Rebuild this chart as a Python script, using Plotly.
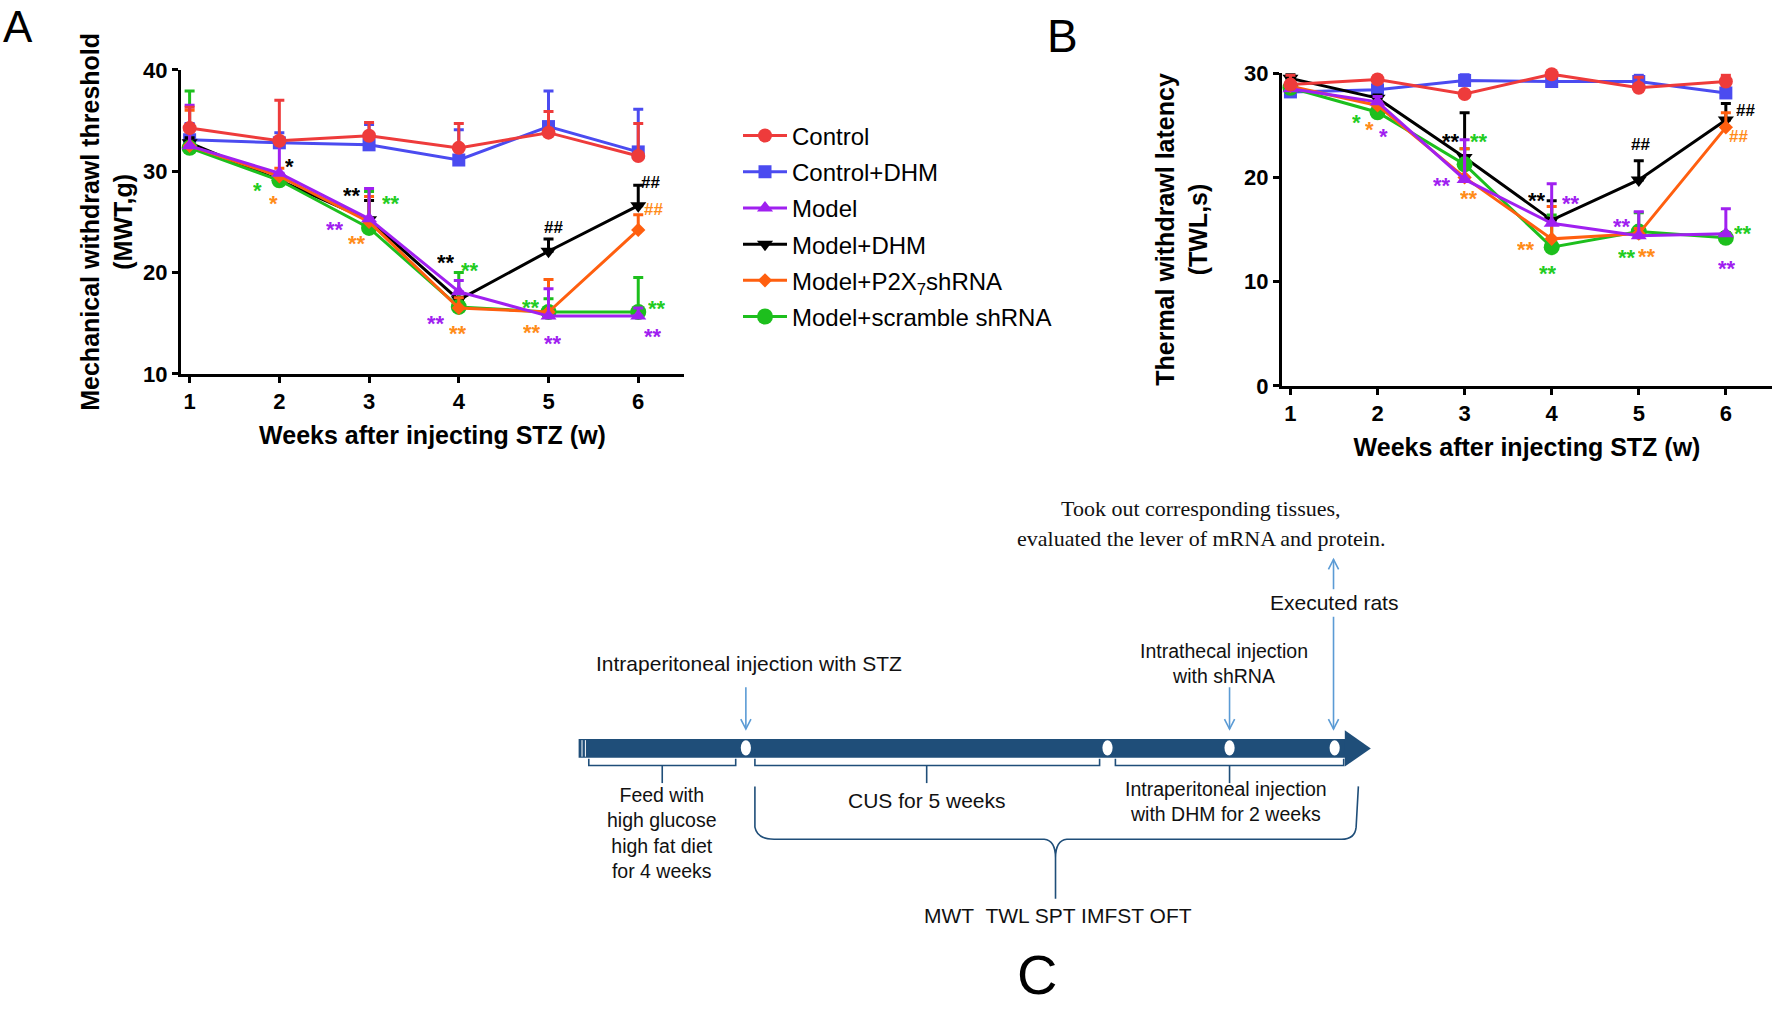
import plotly.graph_objects as go

# ---------------- data ----------------
weeks = [1, 2, 3, 4, 5, 6]
groups = ["Control", "Control+DHM", "Model", "Model+DHM",
          "Model+P2X<sub>7</sub>shRNA", "Model+scramble shRNA"]

# Panel A: mechanical withdrawl threshold (MWT, g), mean and upper error
mwt_control = [34.25, 33.0, 33.5, 32.3, 33.8, 31.5]
mwt_control_err = [2.05, 4.0, 1.3, 2.4, 2.1, 3.2]
mwt_control_dhm = [33.1, 32.8, 32.6, 31.1, 34.4, 31.9]
mwt_control_dhm_err = [1.6, 1.0, 2.0, 3.0, 3.5, 4.2]
mwt_model = [32.5, 29.8, 25.3, 18.1, 15.7, 15.7]
mwt_model_err = [4.0, 3.2, 3.0, 1.1, 2.7, 0.8]
mwt_model_dhm = [32.8, 29.1, 25.2, 17.3, 22.1, 26.6]
mwt_model_dhm_err = [0.5, 0.6, 1.9, 0.6, 1.2, 2.0]
mwt_p2x7 = [32.5, 29.5, 25.0, 16.5, 16.1, 24.2]
mwt_p2x7_err = [3.5, 0.8, 2.5, 1.0, 3.2, 1.5]
mwt_scramble = [32.3, 29.1, 24.4, 16.6, 16.1, 16.1]
mwt_scramble_err = [5.6, 0.6, 3.6, 3.4, 1.3, 3.4]

# Panel B: thermal withdrawl latency (TWL, s)
twl_control = [28.9, 29.4, 28.0, 29.9, 28.6, 29.2]
twl_control_err = [0.9, 0.3, 0.3, 0.3, 1.0, 0.6]
twl_control_dhm = [28.2, 28.4, 29.3, 29.2, 29.2, 28.1]
twl_control_dhm_err = [0.3, 0.3, 0.7, 0.3, 0.6, 0.3]
twl_model = [28.5, 27.25, 19.8, 15.6, 14.4, 14.6]
twl_model_err = [0.3, 0.5, 3.8, 3.8, 2.3, 2.4]
twl_model_dhm = [29.5, 27.6, 21.9, 15.9, 19.75, 25.5]
twl_model_dhm_err = [0.5, 0.3, 4.3, 1.85, 1.85, 1.6]
twl_p2x7 = [28.75, 26.9, 20.0, 14.1, 14.6, 24.8]
twl_p2x7_err = [0.3, 0.3, 2.75, 3.1, 0.5, 1.4]
twl_scramble = [28.6, 26.25, 21.25, 13.3, 14.8, 14.2]
twl_scramble_err = [0.3, 0.3, 1.5, 3.1, 1.8, 0.5]

# significance marks: (text, colour key, week, value)
sig_a = [("*", "black", 2.11, 31.1), ("*", "green", 1.76, 28.7), ("*", "orange", 1.93, 27.5),
         ("**", "black", 2.81, 28.2), ("**", "green", 3.24, 27.5), ("**", "purple", 2.62, 24.9),
         ("**", "orange", 2.86, 23.5), ("**", "black", 3.86, 21.6), ("**", "green", 4.13, 20.8),
         ("**", "purple", 3.75, 15.6), ("**", "orange", 3.99, 14.6), ("##", "black", 5.05, 24.5),
         ("**", "green", 4.80, 17.2), ("**", "orange", 4.82, 14.7), ("**", "purple", 5.05, 13.6),
         ("##", "black", 6.14, 28.9), ("##", "orange", 6.17, 26.3), ("**", "green", 6.21, 17.1),
         ("**", "purple", 6.16, 14.3)]
sig_b = [("*", "green", 1.76, 25.9), ("*", "orange", 1.91, 25.2), ("*", "purple", 2.07, 24.5),
         ("**", "black", 2.84, 24.1), ("**", "green", 3.16, 24.1), ("**", "purple", 2.74, 19.8),
         ("**", "orange", 3.05, 18.6), ("**", "black", 3.83, 18.4), ("**", "purple", 4.22, 18.1),
         ("**", "orange", 3.71, 13.7), ("**", "green", 3.96, 11.4), ("##", "black", 5.02, 23.2),
         ("**", "purple", 4.81, 15.9), ("**", "green", 4.87, 12.9), ("**", "orange", 5.10, 13.0),
         ("##", "black", 6.22, 26.5), ("##", "orange", 6.15, 24.0), ("**", "green", 6.20, 15.2),
         ("**", "purple", 6.01, 11.9)]

# ---------------- style ----------------
line_colors = ["#EE3B3B", "#4B4BF0", "#A020F0", "#000000", "#FF5F0F", "#1DBF1D"]
mark_colors = {"black": "#000000", "green": "#22CC22", "orange": "#FF8C1A", "purple": "#A020F0"}
symbols = ["circle", "square", "triangle-up", "triangle-down", "diamond", "circle"]
msizes = [14, 13, 14, 14, 11, 16]
draw_order = [1, 3, 5, 4, 2, 0]

PLAIN = "Liberation Sans, Arial"
SERIF = "Liberation Serif, Times New Roman"

FW, FH = 1772.0, 1012.0   # figure pixels
W, H = 1568.0, 896.0      # reference sketch scale for panel C layout


def ax(x):
    return x / FW


def ay(y):
    return 1 - y / FH


def px(x):
    return x / W


def py(y):
    return 1 - y / H


mwt = [mwt_control, mwt_control_dhm, mwt_model, mwt_model_dhm, mwt_p2x7, mwt_scramble]
mwt_err = [mwt_control_err, mwt_control_dhm_err, mwt_model_err, mwt_model_dhm_err,
           mwt_p2x7_err, mwt_scramble_err]
twl = [twl_control, twl_control_dhm, twl_model, twl_model_dhm, twl_p2x7, twl_scramble]
twl_err = [twl_control_err, twl_control_dhm_err, twl_model_err, twl_model_dhm_err,
           twl_p2x7_err, twl_scramble_err]

fig = go.Figure()
for i in draw_order:
    for panel, (vals, errs, xa, ya) in enumerate([(mwt, mwt_err, "x", "y"), (twl, twl_err, "x2", "y2")]):
        fig.add_trace(go.Scatter(
            x=weeks, y=vals[i], xaxis=xa, yaxis=ya,
            name=groups[i], legendgroup=groups[i], legendrank=i + 1,
            showlegend=(panel == 0), mode="lines+markers", cliponaxis=False,
            line=dict(color=line_colors[i], width=3),
            marker=dict(symbol=symbols[i], size=msizes[i], color=line_colors[i]),
            error_y=dict(type="data", symmetric=False, array=errs[i], arrayminus=[0] * 6,
                         color=line_colors[i], thickness=3, width=5),
        ))

axis_common = dict(showline=True, linecolor="black", linewidth=3, ticks="outside",
                   ticklen=6, tickwidth=3, tickcolor="black", showgrid=False, zeroline=False,
                   tickfont=dict(family=PLAIN, size=22, color="black", weight="bold"))
title_font = dict(family=PLAIN, size=25, color="black", weight="bold")

fig.update_layout(
    width=1772, height=1012, margin=dict(l=0, r=0, t=0, b=0),
    paper_bgcolor="white", plot_bgcolor="white",
    xaxis=dict(domain=[ax(181), ax(684)], range=[0.904, 6.51], tickvals=weeks, anchor="y",
               title=dict(text="Weeks after injecting STZ (w)", font=title_font, standoff=14),
               **axis_common),
    yaxis=dict(domain=[ay(371), ay(59.3)], range=[10, 40], tickvals=[10, 20, 30, 40], anchor="x",
               title=dict(text="Mechanical withdrawl threshold<br>(MWT,g)", font=title_font, standoff=4),
               **axis_common),
    xaxis2=dict(domain=[ax(1282), 1.0], range=[0.903, 6.53], tickvals=weeks, anchor="y2",
                title=dict(text="Weeks after injecting STZ (w)", font=title_font, standoff=14),
                **axis_common),
    yaxis2=dict(domain=[ay(383.3), ay(62.7)], range=[0, 30], tickvals=[0, 10, 20, 30], anchor="x2",
                title=dict(text="Thermal withdrawl latency<br>(TWL,s)", font=title_font, standoff=30),
                **axis_common),
    legend=dict(x=ax(738), y=ay(104), xanchor="left", yanchor="top",
                font=dict(family=PLAIN, size=24, color="black"),
                tracegroupgap=2, bgcolor="rgba(0,0,0,0)", itemwidth=44),
    showlegend=True,
)

ann = []
for sigs, xr, yr in [(sig_a, "x", "y"), (sig_b, "x2", "y2")]:
    for txt, ck, xv, yv in sigs:
        star = txt.startswith("*")
        ann.append(dict(x=xv, y=yv, xref=xr, yref=yr, text=txt, showarrow=False,
                        yshift=-6 if star else 0, height=16,
                        font=dict(family=PLAIN, size=22 if star else 17, color=mark_colors[ck],
                                  weight="bold")))


def ptext(t, x, y, font):
    ann.append(dict(x=px(x), y=py(y), xref="paper", yref="paper", text=t, showarrow=False,
                    xanchor="center", yanchor="middle", align="center", font=font))


# panel letters
ptext("A", 16, 13, dict(family=PLAIN, size=44, color="black"))
ptext("B", 940, 22, dict(family=PLAIN, size=46, color="black"))
ptext("C", 918, 874, dict(family=PLAIN, size=56, color="black"))

# panel C texts
c_font = dict(family=PLAIN, size=21, color="#111111")
c_small = dict(family=PLAIN, size=19.5, color="#111111")
ptext("Intraperitoneal injection with STZ", 663, 591.5, c_font)
ptext("Intrathecal injection<br>with shRNA", 1083, 591.5, c_small)
ptext("Executed rats", 1180, 536, c_font)
ptext("Feed with<br>high glucose<br>high fat diet<br>for 4 weeks", 586, 745.5, c_small)
ptext("CUS for 5 weeks", 820, 716, c_font)
ptext("Intraperitoneal injection<br>with DHM for 2 weeks", 1085, 716.5, c_small)
ptext("MWT\u00a0 TWL SPT IMFST OFT", 936, 820, c_font)
for t, y in [("Took out corresponding tissues,", 451), ("evaluated the lever of mRNA and protein.", 478)]:
    ptext(t, 1063, y, dict(family=SERIF, size=22, color="#111111"))
fig.update_layout(annotations=ann)

# panel C shapes
BAR = "#1F4E79"
ARROW = "#5B9BD5"
shapes = []


def path(pts, close=False):
    s = "M " + " L ".join(f"{px(x):.5f},{py(y):.5f}" for x, y in pts)
    return s + (" Z" if close else "")


shapes.append(dict(type="rect", xref="paper", yref="paper", x0=px(512), x1=px(1192),
                   y0=py(677), y1=py(660), fillcolor=BAR, line=dict(width=0)))
shapes.append(dict(type="path", xref="paper", yref="paper",
                   path=path([(1190, 652), (1213, 668.5), (1190, 685)], True),
                   fillcolor=BAR, line=dict(width=0)))
for nx in [515, 518]:
    shapes.append(dict(type="line", xref="paper", yref="paper", x0=px(nx), x1=px(nx),
                       y0=py(661), y1=py(676), line=dict(color="white", width=1)))
for cx in [660, 980, 1088, 1181]:
    shapes.append(dict(type="circle", xref="paper", yref="paper", x0=px(cx - 4.5), x1=px(cx + 4.5),
                       y0=py(675), y1=py(661), fillcolor="white", line=dict(width=0)))
# small brackets
for x0, x1, xc in [(521, 651, 586), (668, 973, 820), (987, 1189, 1088)]:
    shapes.append(dict(type="path", xref="paper", yref="paper",
                       path=path([(x0, 678), (x0, 684), (x1, 684), (x1, 678)]),
                       line=dict(color=BAR, width=1.6)))
    shapes.append(dict(type="line", xref="paper", yref="paper", x0=px(xc), x1=px(xc),
                       y0=py(684), y1=py(700), line=dict(color=BAR, width=1.6)))
# big brace
brace = (f"M {px(668)},{py(703)} L {px(668)},{py(740)} Q {px(670)},{py(751)} {px(685)},{py(751)} "
         f"L {px(924)},{py(751)} Q {px(934)},{py(752)} {px(934)},{py(768)} L {px(934)},{py(805)} "
         f"M {px(934)},{py(768)} Q {px(934)},{py(752)} {px(944)},{py(751)} L {px(1187)},{py(751)} "
         f"Q {px(1199)},{py(751)} {px(1200)},{py(740)} L {px(1202)},{py(703)}")
shapes.append(dict(type="path", xref="paper", yref="paper", path=brace,
                   line=dict(color=BAR, width=1.6)))
# arrows
for x_, y0, y1 in [(660, 613, 651), (1088, 613, 651), (1180, 549, 651)]:
    shapes.append(dict(type="line", xref="paper", yref="paper", x0=px(x_), x1=px(x_),
                       y0=py(y0), y1=py(y1), line=dict(color=ARROW, width=1.6)))
    shapes.append(dict(type="path", xref="paper", yref="paper",
                       path=path([(x_ - 4.5, y1 - 9), (x_, y1), (x_ + 4.5, y1 - 9)]),
                       line=dict(color=ARROW, width=1.6)))
shapes.append(dict(type="line", xref="paper", yref="paper", x0=px(1180), x1=px(1180),
                   y0=py(524), y1=py(497), line=dict(color=ARROW, width=1.6)))
shapes.append(dict(type="path", xref="paper", yref="paper",
                   path=path([(1175.5, 506), (1180, 497), (1184.5, 506)]),
                   line=dict(color=ARROW, width=1.6)))
fig.update_layout(shapes=shapes)

fig.write_html("out.html", config={"displayModeBar": False},
               post_script="document.body.style.margin='0px';")
